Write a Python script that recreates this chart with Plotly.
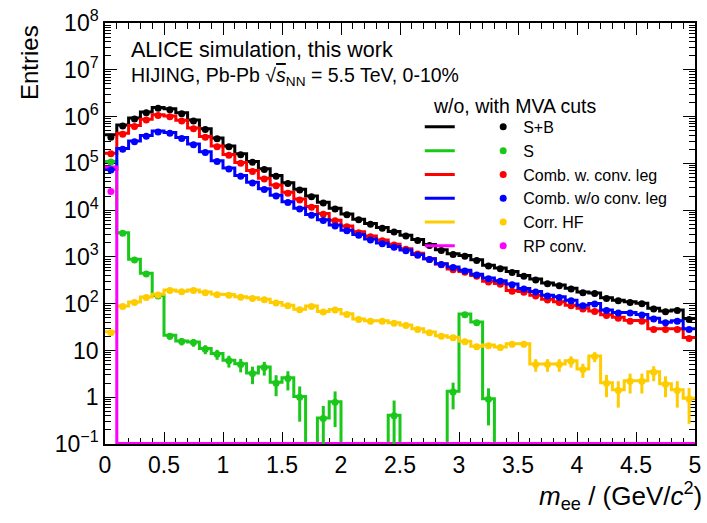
import numpy as np
import plotly.graph_objects as go

# ---------------- data ----------------
x_low, x_high, n_bins = 0.0, 5.0, 50

# markers: with MVA cuts
sb_with = [3.6e5, 6.3e5, 8.9e5, 1.2e6, 1.5e6, 1.4e6, 1.15e6, 8.0e5, 5.3e5, 3.35e5,
           2.25e5, 1.53e5, 1.05e5, 7.4e4, 5.3e4, 3.7e4, 2.7e4, 1.92e4, 1.42e4, 1.05e4,
           8.0e3, 6.2e3, 5.0e3, 4.1e3, 3.4e3, 2.8e3, 2.25e3, 1.76e3, 1.37e3, 1.12e3,
           1.03e3, 840, 635, 560, 465, 385, 322, 265, 242, 206,
           172, 165, 129, 115, 106, 99, 77, 67, 71, 46]
s_with = [1.07e5, 3.2e3, 860, 430, 145, 20, 15.5, 14.7, 10.6, 8.3,
          6.0, 5.0, 3.2, 4.3, 2.0, 2.5, 1.0, 0, 0.35, 0.78,
          0, 0, 0, 0, 0.4, 0, 0, 0, 0, 1.3,
          58, 39, 0.9, 0, 0, 0, 0, 0, 0, 0,
          0, 0, 0, 0, 0, 0, 0, 0, 0, 0]
s_with_err = [300, 40, 20, 14, 8, 3.0, 2.7, 2.7, 2.3, 2.0,
              1.7, 1.6, 1.3, 1.4, 0.95, 1.1, 0.7, 0, 0.3, 0.55,
              0, 0, 0, 0, 0.45, 0, 0, 0, 0, 0.75,
              5.5, 4.5, 0.65, 0, 0, 0, 0, 0, 0, 0,
              0, 0, 0, 0, 0, 0, 0, 0, 0, 0]
comb_conv_with = [1.6e5, 4.2e5, 6.1e5, 8.4e5, 1.05e6, 9.9e5, 8.0e5, 5.5e5, 3.6e5, 2.25e5,
                  1.48e5, 1.0e5, 6.7e4, 4.6e4, 3.3e4, 2.3e4, 1.65e4, 1.15e4, 8.2e3, 5.9e3,
                  4.4e3, 3.3e3, 2.7e3, 2.2e3, 1.8e3, 1.45e3, 1.15e3, 880, 680, 530,
                  470, 385, 290, 260, 185, 175, 146, 120, 106, 90,
                  77, 68, 56, 49, 42, 42, 28, 28, 28, 18]
comb_noconv_with = [7.2e4, 2.0e5, 2.9e5, 3.8e5, 4.7e5, 4.4e5, 3.4e5, 2.5e5, 1.7e5, 1.1e5,
                    7.6e4, 5.3e4, 3.8e4, 2.75e4, 2.0e4, 1.45e4, 1.05e4, 7.8e3, 6.0e3, 4.6e3,
                    3.6e3, 2.9e3, 2.3e3, 1.9e3, 1.6e3, 1.35e3, 1.08e3, 880, 690, 590,
                    500, 410, 340, 300, 255, 205, 177, 146, 135, 115,
                    90, 98, 71, 63, 63, 57, 47, 39, 42, 28]
hf_with = [24, 87, 106, 135, 154, 192, 180, 192, 172, 156,
           151, 137, 129, 121, 103, 90, 74, 87, 66, 73,
           59, 46, 42, 42, 38, 34, 28, 24, 20, 18.6,
           15.4, 12, 12.6, 11.5, 13.5, 13.5, 5.0, 5.0, 5.0, 5.9,
           3.9, 7.4, 2.0, 1.4, 2.2, 2.2, 3.4, 1.9, 1.4, 0.92]
hf_with_err = [2.5, 4, 5, 5, 6, 6, 6, 6, 6, 6,
               6, 5, 5, 5, 5, 4.5, 4, 4.5, 4, 4,
               3.8, 3.3, 3.2, 3.2, 3.0, 2.9, 2.6, 2.5, 2.3, 2.2,
               2.0, 1.8, 1.8, 1.7, 1.9, 1.9, 1.5, 1.5, 1.5, 1.6,
               1.3, 1.8, 1.0, 0.8, 1.0, 1.0, 1.2, 0.9, 0.8, 0.65]
rp_with = [2.5e4] + [0] * 49

# lines: without MVA cuts
sb_without = [4.1e5, 6.6e5, 9.3e5, 1.25e6, 1.56e6, 1.46e6, 1.2e6, 8.4e5, 5.5e5, 3.5e5,
              2.35e5, 1.6e5, 1.1e5, 7.7e4, 5.5e4, 3.85e4, 2.8e4, 2.0e4, 1.48e4, 1.1e4,
              8.3e3, 6.4e3, 5.2e3, 4.25e3, 3.5e3, 2.9e3, 2.35e3, 1.83e3, 1.42e3, 1.16e3,
              1.07e3, 870, 660, 580, 485, 400, 335, 275, 250, 213,
              178, 170, 134, 119, 110, 102, 80, 70, 73, 48]
s_without = [1.1e5, 3.3e3, 890, 445, 150, 21, 16, 15.2, 11, 8.6,
             6.2, 5.2, 3.3, 4.4, 2.1, 2.6, 1.04, 0, 0.36, 0.8,
             0, 0, 0, 0, 0.41, 0, 0, 0, 0, 1.35,
             60, 40.5, 0.93, 0, 0, 0, 0, 0, 0, 0,
             0, 0, 0, 0, 0, 0, 0, 0, 0, 0]
comb_conv_without = [1.65e5, 4.4e5, 6.4e5, 8.8e5, 1.09e6, 1.03e6, 8.3e5, 5.7e5, 3.75e5, 2.35e5,
                     1.54e5, 1.04e5, 7.0e4, 4.8e4, 3.45e4, 2.4e4, 1.72e4, 1.2e4, 8.5e3, 6.1e3,
                     4.6e3, 3.45e3, 2.8e3, 2.3e3, 1.87e3, 1.5e3, 1.2e3, 915, 705, 550,
                     488, 400, 300, 270, 192, 181, 151, 124, 110, 93,
                     80, 70, 58, 51, 44, 43, 29, 29, 29, 19]
comb_noconv_without = [7.5e4, 2.08e5, 3.0e5, 3.95e5, 4.9e5, 4.55e5, 3.55e5, 2.6e5, 1.77e5, 1.14e5,
                       7.9e4, 5.5e4, 3.95e4, 2.85e4, 2.08e4, 1.5e4, 1.09e4, 8.1e3, 6.2e3, 4.8e3,
                       3.7e3, 3.0e3, 2.4e3, 1.97e3, 1.66e3, 1.4e3, 1.12e3, 910, 715, 610,
                       518, 425, 352, 310, 264, 212, 183, 151, 140, 119,
                       93, 101, 73, 65, 65, 59, 49, 40, 43, 29]
hf_without = [25, 89, 109, 139, 158, 197, 185, 197, 177, 160,
              155, 141, 133, 124, 106, 92, 76, 89, 68, 75,
              61, 47, 43, 43, 39, 35, 29, 24.7, 20.6, 19.1,
              15.8, 12.3, 13, 11.8, 13.9, 13.9, 5.1, 5.1, 5.1, 6.0,
              4.0, 7.6, 2.05, 1.45, 2.25, 2.25, 3.5, 1.95, 1.45, 0.95]
rp_without = [8.4e4] + [0] * 49

labels = ["S+B", "S", "Comb. w. conv. leg", "Comb. w/o conv. leg", "Corr. HF", "RP conv."]
colors = ["#000000", "#19c819", "#ff0000", "#0000ff", "#ffcc00", "#ff00ff"]

y_ticks = [1e-1, 1, 10, 1e2, 1e3, 1e4, 1e5, 1e6, 1e7, 1e8]
y_tick_text = ["10<sup>\u22121</sup>", "1", "10", "10<sup>2</sup>", "10<sup>3</sup>",
               "10<sup>4</sup>", "10<sup>5</sup>", "10<sup>6</sup>", "10<sup>7</sup>", "10<sup>8</sup>"]
x_ticks = [0, 0.5, 1, 1.5, 2, 2.5, 3, 3.5, 4, 4.5, 5]
x_tick_text = ["0", "0.5", "1", "1.5", "2", "2.5", "3", "3.5", "4", "4.5", "5"]

# ---------------- figure ----------------
y_min, y_max = 1e-1, 1e8
edges = np.linspace(x_low, x_high, n_bins + 1)
centers = 0.5 * (edges[:-1] + edges[1:])
floor_val = y_min * 10 ** 0.012   # empty bins drawn on the frame bottom

lines = [sb_without, s_without, comb_conv_without, comb_noconv_without, hf_without, rp_without]
marks = [sb_with, s_with, comb_conv_with, comb_noconv_with, hf_with, rp_with]
errs = [None, s_with_err, None, None, hf_with_err, None]

fig = go.Figure()

for vals, col in zip(lines, colors):
    v = np.asarray(vals, dtype=float)
    v = np.where(v > 0, v, floor_val)
    xs = np.repeat(edges, 2)[1:-1]
    ys = np.repeat(v, 2)
    fig.add_trace(go.Scatter(
        x=xs, y=ys, mode="lines", line=dict(color=col, width=3),
        name=" ", legend="legend", showlegend=True, cliponaxis=False,
        hoverinfo="skip"))

for vals, err, col, lab in zip(marks, errs, colors, labels):
    v = np.asarray(vals, dtype=float)
    keep = v > 0
    kw = {}
    if err is not None:
        e = np.asarray(err, dtype=float)[keep]
        em = np.minimum(e, v[keep] * 0.999)
        kw["error_y"] = dict(type="data", array=e, arrayminus=em, symmetric=False,
                             color=col, thickness=3, width=0)
    fig.add_trace(go.Scatter(
        x=centers[keep], y=v[keep], mode="markers",
        marker=dict(color=col, size=7, symbol="circle"),
        name=lab, legend="legend2", showlegend=True, **kw))

font_family = "Liberation Sans, Arial, Helvetica, sans-serif"

minor_y = [m * 10.0 ** k for k in range(-1, 8) for m in range(2, 10)]

fig.update_layout(
    width=707, height=523,
    margin=dict(l=105, r=6, t=15, b=79),
    paper_bgcolor="white", plot_bgcolor="white",
    font=dict(family=font_family, color="black"),
    showlegend=True,
    legend=dict(x=0.5335, y=0.7935, xanchor="left", yanchor="top",
                bgcolor="rgba(0,0,0,0)", font=dict(size=16, color="black"),
                itemwidth=30, traceorder="normal"),
    legend2=dict(x=0.641, y=0.7935, xanchor="left", yanchor="top",
                 bgcolor="rgba(0,0,0,0)", font=dict(size=16, color="black"),
                 itemwidth=30, traceorder="normal"),
    xaxis=dict(range=[x_low, x_high], showgrid=False, zeroline=False,
               showline=True, linecolor="black", linewidth=1.5, mirror="allticks",
               ticks="inside", ticklen=12, tickwidth=1.3, tickcolor="black",
               tickvals=x_ticks, ticktext=x_tick_text, ticklabeloverflow="allow",
               tickfont=dict(size=23, family=font_family, color="black"),
               minor=dict(ticks="inside", ticklen=6, tickwidth=1.3, tickcolor="black",
                          dtick=0.1, showgrid=False),
               layer="below traces"),
    yaxis=dict(type="log", range=[np.log10(y_min), np.log10(y_max)], showgrid=False,
               zeroline=False, showline=True, linecolor="black", linewidth=1.5,
               mirror="allticks", ticks="inside", ticklen=12, tickwidth=1.3,
               tickcolor="black", tickvals=y_ticks, ticktext=y_tick_text,
               ticklabeloverflow="allow",
               tickfont=dict(size=23, family=font_family, color="black"),
               minor=dict(ticks="inside", ticklen=6, tickwidth=1.3, tickcolor="black",
                          tickvals=minor_y, showgrid=False),
               layer="below traces"),
)

fig.add_annotation(text="ALICE simulation, this work", xref="paper", yref="paper",
                   x=0.041, y=0.937, xanchor="left", yanchor="middle", showarrow=False,
                   font=dict(size=21.5, color="black"))
fig.add_annotation(text="HIJING, Pb-Pb \u221a<span style='text-decoration:overline'><i>s</i></span><sub>NN</sub> = 5.5 TeV, 0-10%",
                   xref="paper", yref="paper",
                   x=0.041, y=0.872, xanchor="left", yanchor="middle", showarrow=False,
                   font=dict(size=19.5, color="black"))
fig.add_annotation(text="w/o, with MVA cuts", xref="paper", yref="paper",
                   x=0.552, y=0.8019, xanchor="left", yanchor="middle", showarrow=False,
                   font=dict(size=19.5, color="black"))
fig.add_annotation(text="Entries", xref="paper", yref="paper", textangle=-90,
                   x=-0.129, y=0.907, xanchor="center", yanchor="middle", showarrow=False,
                   font=dict(size=24, color="black"))
fig.add_annotation(text="<i>m</i><sub>ee</sub> / (GeV/<i>c</i><sup>2</sup>)",
                   xref="paper", yref="paper", x=1.015, y=-0.1235,
                   xanchor="right", yanchor="middle", showarrow=False,
                   font=dict(size=26, color="black"))

fig.write_html("out.html")
